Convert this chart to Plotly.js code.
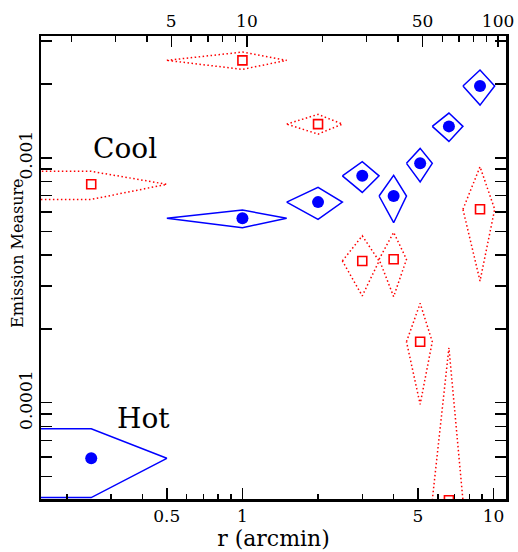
<!DOCTYPE html>
<html><head><meta charset="utf-8">
<script src="https://cdn.plot.ly/plotly-3.0.1.min.js"></script>
<style>html,body{margin:0;padding:0;background:#fff}#chart{width:518px;height:552px}</style>
</head><body><div id="chart"></div>
<script>
// ---- data: radius bins (arcmin) ----
const rMid = [0.25, 1.0, 2.0, 3.0, 4.0, 5.1, 6.64, 8.83];
const rLo  = [0,    0.5, 1.5, 2.5, 3.5, 4.5, 5.7,  7.55];
const rHi  = [0.5,  1.5, 2.5, 3.5, 4.5, 5.7, 7.55, 10.1];
// Hot component (blue)
const hotEM   = [5.93e-5, 5.66e-4, 6.59e-4, 8.44e-4, 6.98e-4, 9.49e-4, 1.343e-3, 1.962e-3];
const hotEMLo = [4.1e-5,  5.18e-4, 5.60e-4, 7.22e-4, 5.43e-4, 7.96e-4, 1.166e-3, 1.64e-3];
const hotEMHi = [7.83e-5, 6.12e-4, 7.57e-4, 9.63e-4, 8.47e-4, 1.092e-3, 1.522e-3, 2.28e-3];
// Cool component (red)
const coolEM   = [7.79e-4, 2.498e-3, 1.372e-3, 3.79e-4, 3.85e-4, 1.774e-4, 4.0e-5,   6.16e-4];
const coolEMLo = [6.76e-4, 2.295e-3, 1.249e-3, 2.73e-4, 2.71e-4, 9.85e-5,  1.0e-5,   3.14e-4];
const coolEMHi = [8.80e-4, 2.70e-3,  1.503e-3, 4.80e-4, 4.96e-4, 2.545e-4, 1.677e-4, 9.19e-4];
// ---- ticks ----
const botMajor = [0.5, 1, 5, 10];
const botLabels = ['0.5', '1', '5', '10'];
const botMinor = [0.2, 0.3, 0.4, 0.6, 0.7, 0.8, 0.9, 2, 3, 4, 6, 7, 8, 9];
const topMajor = [5, 10, 50, 100];
const topLabels = ['5', '10', '50', '100'];
const topMinor = [2, 3, 4, 6, 7, 8, 9, 20, 30, 40, 60, 70, 80, 90];
const yMajor = [1e-4, 1e-3];
const yLabels = ['0.0001', '0.001'];
const yMinor = [5e-5, 6e-5, 7e-5, 8e-5, 9e-5, 2e-4, 3e-4, 4e-4, 5e-4, 6e-4, 7e-4, 8e-4, 9e-4, 2e-3, 3e-3];
const kpcPerArcmin = 9.6;

const xRange = [-0.802, 1.0494];
const yRange = [-4.393, -2.503];
const xFar = Math.pow(10, xRange[0] - 1);

function diamond(i, em, lo, hi) {
  if (rLo[i] > 0) {
    return {x: [rLo[i], rMid[i], rHi[i], rMid[i], rLo[i]], y: [em[i], hi[i], em[i], lo[i], em[i]]};
  }
  return {x: [xFar, rMid[i], rHi[i], rMid[i], xFar], y: [hi[i], hi[i], em[i], lo[i], lo[i]]};
}

const traces = [];
for (let i = 0; i < rMid.length; i++) {
  const d = diamond(i, coolEM, coolEMLo, coolEMHi);
  traces.push({x: d.x, y: d.y, mode: 'lines', type: 'scatter', hoverinfo: 'skip',
    line: {color: '#ff0000', width: 1.5, dash: '1.5px,2.5px'}, showlegend: false});
}
for (let i = 0; i < rMid.length; i++) {
  const d = diamond(i, hotEM, hotEMLo, hotEMHi);
  traces.push({x: d.x, y: d.y, mode: 'lines', type: 'scatter', hoverinfo: 'skip',
    line: {color: '#0000ff', width: 1.5}, showlegend: false});
}
traces.push({x: rMid, y: coolEM, mode: 'markers', type: 'scatter', name: 'Cool',
  marker: {symbol: 'square-open', size: 9, color: '#ff0000', line: {width: 1.6, color: '#ff0000'}}, showlegend: false});
traces.push({x: rMid, y: hotEM, mode: 'markers', type: 'scatter', name: 'Hot',
  marker: {symbol: 'circle', size: 12, color: '#0000ff'}, showlegend: false});
// carrier for top axis (kpc)
traces.push({x: rMid.map(v => v * kpcPerArcmin), y: hotEM, xaxis: 'x2', yaxis: 'y', mode: 'markers',
  marker: {opacity: 0}, hoverinfo: 'skip', showlegend: false});

const font = 'DejaVu Serif, serif';
const tickStyle = {ticks: 'inside', ticklen: 11, tickwidth: 1.5, tickcolor: '#000',
  showline: true, linewidth: 2.5, linecolor: '#000', showgrid: false, zeroline: false,
  tickfont: {family: font, size: 17, color: '#000'}};

const layout = {
  width: 518, height: 552,
  margin: {l: 41, r: 12, t: 36, b: 53},
  paper_bgcolor: '#fff', plot_bgcolor: '#fff',
  xaxis: Object.assign({}, tickStyle, {type: 'log', range: xRange, tickmode: 'array',
    tickvals: botMajor, ticktext: botLabels, side: 'bottom', anchor: 'y',
    minor: {tickmode: 'array', tickvals: botMinor, ticks: 'inside', ticklen: 5.5, tickwidth: 1.5, tickcolor: '#000'},
    title: {text: 'r (arcmin)', font: {family: font, size: 22, color: '#000'}, standoff: 6}}),
  xaxis2: Object.assign({}, tickStyle, {type: 'log', overlaying: 'x', side: 'top', anchor: 'y',
    range: [xRange[0] + Math.log10(kpcPerArcmin), xRange[1] + Math.log10(kpcPerArcmin)],
    tickmode: 'array', tickvals: topMajor, ticktext: topLabels,
    minor: {tickmode: 'array', tickvals: topMinor, ticks: 'inside', ticklen: 5.5, tickwidth: 1.5, tickcolor: '#000'}}),
  yaxis: Object.assign({}, tickStyle, {type: 'log', range: yRange, tickmode: 'array',
    tickvals: yMajor, ticktext: yLabels, tickangle: -90, mirror: 'allticks',
    minor: {tickmode: 'array', tickvals: yMinor, ticks: 'inside', ticklen: 5.5, tickwidth: 1.5, tickcolor: '#000'}}),
  annotations: [
    {text: 'Cool', xref: 'paper', yref: 'paper', x: 0.1814, y: 0.757, xanchor: 'center', yanchor: 'middle',
      showarrow: false, font: {family: font, size: 28, color: '#000'}},
    {text: 'Hot', xref: 'paper', yref: 'paper', x: 0.2201, y: 0.1743, xanchor: 'center', yanchor: 'middle',
      showarrow: false, font: {family: font, size: 28, color: '#000'}},
    {text: 'Emission Measure', xref: 'paper', yref: 'paper', x: -0.0506, y: 0.5324, xanchor: 'center', yanchor: 'middle',
      textangle: -90, showarrow: false, font: {family: font, size: 16, color: '#000'}}
  ]
};

Plotly.newPlot('chart', traces, layout, {displayModeBar: false, staticPlot: true});
</script>
</body></html>
